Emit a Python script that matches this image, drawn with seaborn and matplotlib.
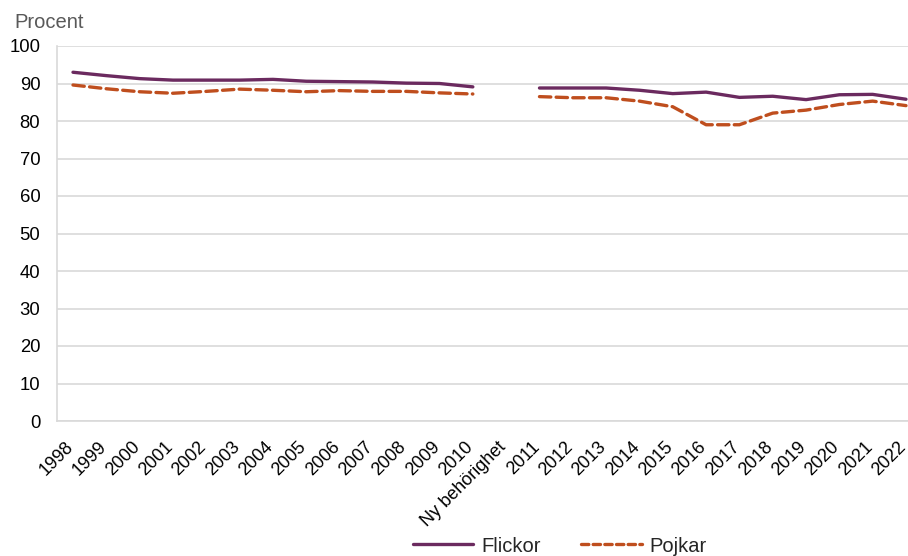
import numpy as np
import pandas as pd
import matplotlib
matplotlib.use("Agg")
import matplotlib.pyplot as plt
from matplotlib.lines import Line2D
from matplotlib.transforms import ScaledTranslation
import seaborn as sns

categories = [str(y) for y in range(1998, 2011)] + ["Ny behörighet"] + [str(y) for y in range(2011, 2023)]
flickor = [93.0, 92.1, 91.3, 90.9, 90.9, 90.9, 91.1, 90.6, 90.5, 90.4, 90.1, 90.0, 89.1,
           np.nan,
           88.8, 88.8, 88.8, 88.2, 87.3, 87.7, 86.3, 86.6, 85.7, 87.0, 87.1, 85.8]
pojkar = [89.6, 88.6, 87.8, 87.4, 87.9, 88.5, 88.2, 87.8, 88.1, 87.9, 87.9, 87.5, 87.2,
          np.nan,
          86.5, 86.2, 86.2, 85.3, 83.8, 79.0, 79.0, 82.1, 82.9, 84.4, 85.3, 84.1]
series_names = ["Flickor", "Pojkar"]
colors = {"Flickor": "#6b2a5f", "Pojkar": "#bf4e1e"}

# the "Ny behörighet" slot has no values, so each series is drawn in two pieces
gap = categories.index("Ny behörighet")
rows = []
for name, vals in zip(series_names, [flickor, pojkar]):
    for i, v in enumerate(vals):
        if np.isnan(v):
            continue
        rows.append({"pos": i, "value": v, "series": name, "segment": 0 if i < gap else 1})
df = pd.DataFrame(rows)

sns.set_style("white")
plt.rcParams['font.family'] = ['Liberation Sans', 'DejaVu Sans']

fig = plt.figure(figsize=(9.08, 5.56), dpi=100)
ax = fig.add_axes([57 / 908, 1 - 421 / 556, 1 - 57 / 908, 375 / 556])

sns.lineplot(data=df, x="pos", y="value", hue="series", style="series", units="segment",
             estimator=None, palette=colors, dashes={"Flickor": "", "Pojkar": (3.4, 1.6)},
             linewidth=2.4, legend=False, ax=ax)
for ln in ax.lines:
    ln.set_dash_capstyle("round")
    ln.set_solid_capstyle("round")

ax.set_ylim(0, 100)
ax.set_xlim(-0.48, len(categories) - 1 + 0.06)
ax.set_yticks(range(0, 101, 10))
ax.set_xticks(range(len(categories)))
ax.set_xticklabels(categories, rotation=45, ha="right", va="center", rotation_mode="anchor")
ax.tick_params(axis="y", labelsize=13.3, length=4, color="#d9d9d9", pad=8, labelcolor="#000000")
ax.tick_params(axis="x", labelsize=13, length=0, pad=17, labelcolor="#000000")
shift = ScaledTranslation(-2.5 / 100, 0, fig.dpi_scale_trans)
for lab in ax.get_xticklabels():
    lab.set_transform(lab.get_transform() + shift)
ax.yaxis.grid(True, color="#d9d9d9", linewidth=1.2)
ax.set_axisbelow(True)
for side in ["top", "right"]:
    ax.spines[side].set_visible(False)
ax.spines["left"].set_color("#d9d9d9")
ax.spines["bottom"].set_color("#d9d9d9")
ax.spines["left"].set_linewidth(1.2)
ax.spines["bottom"].set_linewidth(1.2)
ax.set_xlabel("")
ax.set_ylabel("")

fig.text(14 / 908, 1 - 22 / 556, "Procent", fontsize=14.5, color="#595959", va="center", ha="left")

handles = [Line2D([], [], color=colors["Flickor"], linewidth=2.4),
           Line2D([], [], color=colors["Pojkar"], linewidth=2.4, linestyle=(0, (2.2, 1.3)),
                  dash_capstyle="round")]
fig.legend(handles, series_names, loc="center", bbox_to_anchor=(560 / 908, 1 - 546 / 556),
           ncol=2, frameon=False, fontsize=14.5, handlelength=3.0, columnspacing=2.0,
           handletextpad=0.4, borderaxespad=0, borderpad=0)

fig.savefig("out.png", dpi=100)
